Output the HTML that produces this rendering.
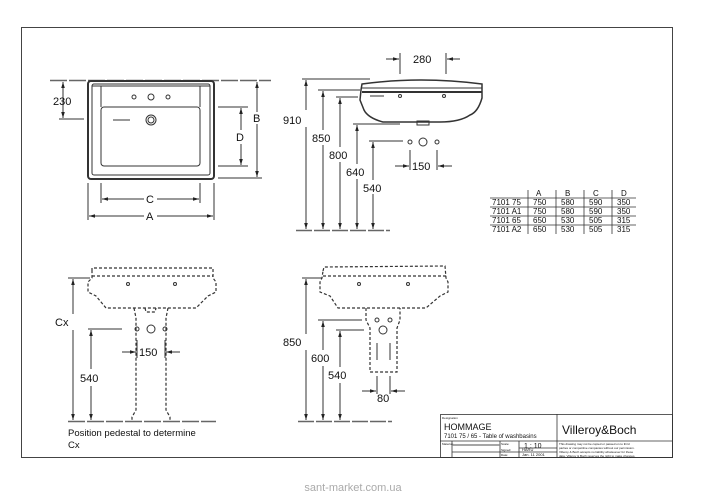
<!DOCTYPE html>
<html><head><meta charset="utf-8"><style>
html,body{margin:0;padding:0;background:#fff;}
svg{display:block;font-family:"Liberation Sans",sans-serif;}
</style></head><body>
<svg width="707" height="500" viewBox="0 0 707 500" xmlns="http://www.w3.org/2000/svg">
<defs>
<marker id="ar" viewBox="0 0 10 10" refX="10" refY="5" markerWidth="6" markerHeight="6" orient="auto-start-reverse"><path d="M0,2 L10,5 L0,8 z" fill="#222"/></marker>
</defs>
<g fill="none" stroke="#333" stroke-width="1">
<rect x="21.5" y="27.5" width="651" height="430" stroke="#444"/>
<!-- top-left basin -->
<line x1="50" y1="80.5" x2="271" y2="80.5" stroke-width="1.5" stroke="#666" stroke-dasharray="17,2"/>
<rect x="88" y="81" width="126" height="98" rx="3" stroke-width="2"/>
<rect x="92" y="84" width="118" height="91" rx="2"/>
<line x1="92" y1="86" x2="210" y2="86"/>
<line x1="101" y1="86" x2="101" y2="107"/><line x1="200" y1="86" x2="200" y2="107"/>
<rect x="101" y="107" width="99" height="59" rx="3"/>
<circle cx="134" cy="97" r="2"/><circle cx="151" cy="97" r="3"/><circle cx="168" cy="97" r="2"/>
<circle cx="151" cy="120" r="5"/><circle cx="151" cy="120" r="3"/>
<line x1="113" y1="120" x2="130" y2="120"/>
<line x1="63" y1="82" x2="63" y2="118" marker-start="url(#ar)" marker-end="url(#ar)"/>
<line x1="59" y1="119" x2="84" y2="119"/>
<line x1="218" y1="107" x2="248" y2="107"/><line x1="218" y1="166" x2="248" y2="166"/>
<line x1="241" y1="108" x2="241" y2="130" marker-start="url(#ar)"/><line x1="241" y1="144" x2="241" y2="165" marker-end="url(#ar)"/>
<line x1="218" y1="178" x2="262" y2="178"/>
<line x1="257" y1="82" x2="257" y2="112" marker-start="url(#ar)"/><line x1="257" y1="124" x2="257" y2="177" marker-end="url(#ar)"/>
<line x1="101" y1="183" x2="101" y2="203"/><line x1="200" y1="183" x2="200" y2="203"/>
<line x1="88" y1="183" x2="88" y2="220"/><line x1="214" y1="183" x2="214" y2="220"/>
<line x1="102" y1="199" x2="144" y2="199" marker-start="url(#ar)"/><line x1="157" y1="199" x2="199" y2="199" marker-end="url(#ar)"/>
<line x1="89" y1="216" x2="144" y2="216" marker-start="url(#ar)"/><line x1="157" y1="216" x2="213" y2="216" marker-end="url(#ar)"/>
<!-- side view -->
<path d="M362,84 Q420,76 482,84 L482,98 Q478,112 470,115 Q460,122 440,122 L383,122 Q368,118 364,110 L360,100 L361,90 Z" stroke-width="1.5"/>
<line x1="362" y1="88" x2="482" y2="88"/><line x1="362" y1="92" x2="482" y2="92" stroke-width="2"/>
<circle cx="400" cy="96" r="1.5"/><circle cx="444" cy="96" r="1.5"/>
<line x1="370" y1="96" x2="384" y2="96"/>
<rect x="417" y="121" width="12" height="4"/>
<line x1="400" y1="53" x2="400" y2="74"/><line x1="446" y1="53" x2="446" y2="74"/>
<line x1="386" y1="59" x2="399" y2="59" marker-end="url(#ar)"/><line x1="460" y1="59" x2="447" y2="59" marker-end="url(#ar)"/>
<circle cx="410" cy="142" r="2"/><circle cx="423" cy="142" r="4"/><circle cx="437" cy="142" r="2"/>
<line x1="410" y1="150" x2="410" y2="170"/><line x1="437" y1="150" x2="437" y2="170"/>
<line x1="395" y1="166" x2="409" y2="166" marker-end="url(#ar)"/><line x1="452" y1="166" x2="438" y2="166" marker-end="url(#ar)"/>
<line x1="296" y1="230.5" x2="390" y2="230.5" stroke-width="1.5" stroke="#666" stroke-dasharray="16,2"/>
<line x1="302" y1="79" x2="370" y2="79"/><line x1="318" y1="90" x2="360" y2="90"/><line x1="336" y1="97" x2="358" y2="97"/>
<line x1="353" y1="124" x2="400" y2="124"/><line x1="369" y1="141" x2="403" y2="141"/>
<line x1="306" y1="80" x2="306" y2="110" marker-start="url(#ar)"/><line x1="306" y1="127" x2="306" y2="229" marker-end="url(#ar)"/>
<line x1="323" y1="91" x2="323" y2="130" marker-start="url(#ar)"/><line x1="323" y1="145" x2="323" y2="229" marker-end="url(#ar)"/>
<line x1="340" y1="98" x2="340" y2="147" marker-start="url(#ar)"/><line x1="340" y1="162" x2="340" y2="229" marker-end="url(#ar)"/>
<line x1="357" y1="125" x2="357" y2="164" marker-start="url(#ar)"/><line x1="357" y1="179" x2="357" y2="229" marker-end="url(#ar)"/>
<line x1="373" y1="142" x2="373" y2="180" marker-start="url(#ar)"/><line x1="373" y1="194" x2="373" y2="229" marker-end="url(#ar)"/>
<!-- table -->
<g stroke-width="0.8">
<line x1="490" y1="198" x2="636" y2="198"/><line x1="490" y1="207" x2="636" y2="207"/><line x1="490" y1="216" x2="636" y2="216"/><line x1="490" y1="225" x2="636" y2="225"/>
<line x1="528" y1="190" x2="528" y2="234"/><line x1="556" y1="190" x2="556" y2="234"/><line x1="584" y1="190" x2="584" y2="234"/><line x1="612" y1="190" x2="612" y2="234"/>
</g>
<!-- bottom-left -->
<g stroke-dasharray="3,2" stroke-width="1.2">
<path d="M92,271 L92,268 L213,268 L213,278 L216,282 L216,292 L208,296 L196,308 L106,308 L96,296 L88,292 L88,282 L92,278 Z"/>
<line x1="92" y1="276" x2="213" y2="276"/>
<path d="M134,308 L136,318 L136,410 L132,417 L132,420"/>
<path d="M168,308 L166,318 L166,410 L170,417 L170,420"/>
<path d="M145,308 L146,312 L155,312 L156,308"/>
</g>
<circle cx="128" cy="284" r="1.5"/><circle cx="175" cy="284" r="1.5"/>
<circle cx="137" cy="329" r="2"/><circle cx="151" cy="329" r="4"/><circle cx="165" cy="329" r="2"/>
<line x1="68" y1="421.5" x2="216" y2="421.5" stroke-width="1.5" stroke="#666" stroke-dasharray="17,2"/>
<line x1="68" y1="278" x2="90" y2="278"/><line x1="88" y1="329" x2="122" y2="329"/>
<line x1="73" y1="279" x2="73" y2="314" marker-start="url(#ar)"/><line x1="73" y1="330" x2="73" y2="420" marker-end="url(#ar)"/>
<line x1="91" y1="330" x2="91" y2="369" marker-start="url(#ar)"/><line x1="91" y1="386" x2="91" y2="420" marker-end="url(#ar)"/>
<line x1="137" y1="340" x2="137" y2="358"/><line x1="165" y1="340" x2="165" y2="358"/>
<line x1="122" y1="352" x2="136" y2="352" marker-end="url(#ar)"/><line x1="180" y1="352" x2="166" y2="352" marker-end="url(#ar)"/>
<!-- bottom-middle -->
<g stroke-dasharray="3,2" stroke-width="1.2">
<path d="M323,271 L324,267 L445,266 L446,278 L448,282 L448,292 L440,296 L426,308 L338,308 L330,296 L320,292 L320,282 L322,278 Z"/>
<line x1="323" y1="276" x2="446" y2="276"/>
<path d="M366,308 L366,320 L370,328 L370,372 L397,372 L397,328 L400,320 L400,308"/>
</g>
<circle cx="359" cy="284" r="1.5"/><circle cx="408" cy="284" r="1.5"/>
<circle cx="377" cy="320" r="2"/><circle cx="390" cy="320" r="2"/><circle cx="383" cy="330" r="4"/>
<line x1="377" y1="343" x2="377" y2="360"/><line x1="390" y1="343" x2="390" y2="360"/>
<line x1="377" y1="376" x2="377" y2="394"/><line x1="390" y1="376" x2="390" y2="394"/>
<line x1="362" y1="391" x2="376" y2="391" marker-end="url(#ar)"/><line x1="405" y1="391" x2="391" y2="391" marker-end="url(#ar)"/>
<line x1="302" y1="278" x2="322" y2="278"/><line x1="318" y1="320" x2="362" y2="320"/><line x1="336" y1="330" x2="364" y2="330"/>
<line x1="306" y1="279" x2="306" y2="334" marker-start="url(#ar)"/><line x1="306" y1="350" x2="306" y2="420" marker-end="url(#ar)"/>
<line x1="323" y1="321" x2="323" y2="350" marker-start="url(#ar)"/><line x1="323" y1="366" x2="323" y2="420" marker-end="url(#ar)"/>
<line x1="340" y1="331" x2="340" y2="367" marker-start="url(#ar)"/><line x1="340" y1="383" x2="340" y2="420" marker-end="url(#ar)"/>
<line x1="298" y1="421.5" x2="392" y2="421.5" stroke-width="1.5" stroke="#666" stroke-dasharray="16,2"/>
<!-- title block -->
<g stroke-width="0.8">
<rect x="440.5" y="414.5" width="232" height="43"/>
<line x1="557" y1="414" x2="557" y2="457"/>
<line x1="440" y1="441" x2="672" y2="441"/>
<line x1="452" y1="441" x2="452" y2="457"/>
<line x1="500" y1="441" x2="500" y2="457"/>
<line x1="519" y1="448" x2="557" y2="448"/><line x1="519" y1="441" x2="519" y2="457"/>
<line x1="452" y1="452" x2="557" y2="452"/>
<line x1="452" y1="445" x2="500" y2="445" stroke-width="1.5" stroke="#888"/>
</g>
</g>
<g fill="#111" font-size="11">
<text x="53" y="105">230</text>
<text x="236" y="141">D</text>
<text x="253" y="122">B</text>
<text x="146" y="203">C</text>
<text x="146" y="220">A</text>
<text x="413" y="63">280</text>
<text x="412" y="170">150</text>
<text x="283" y="124">910</text>
<text x="312" y="142">850</text>
<text x="329" y="159">800</text>
<text x="346" y="176">640</text>
<text x="363" y="192">540</text>
<text x="55" y="326">Cx</text>
<text x="80" y="382">540</text>
<text x="139" y="356">150</text>
<text x="283" y="346">850</text>
<text x="311" y="362">600</text>
<text x="328" y="379">540</text>
<text x="377" y="402">80</text>
<text x="68" y="436" font-size="9.5">Position pedestal to determine</text>
<text x="68" y="448" font-size="9.5">Cx</text>
</g>
<g fill="#111" font-size="8">
<text x="536" y="196">A</text><text x="565" y="196">B</text><text x="593" y="196">C</text><text x="621" y="196">D</text>
<text x="492" y="205">7101 75</text><text x="533" y="205">750</text><text x="561" y="205">580</text><text x="589" y="205">590</text><text x="617" y="205">350</text>
<text x="492" y="214">7101 A1</text><text x="533" y="214">750</text><text x="561" y="214">580</text><text x="589" y="214">590</text><text x="617" y="214">350</text>
<text x="492" y="223">7101 65</text><text x="533" y="223">650</text><text x="561" y="223">530</text><text x="589" y="223">505</text><text x="617" y="223">315</text>
<text x="492" y="232">7101 A2</text><text x="533" y="232">650</text><text x="561" y="232">530</text><text x="589" y="232">505</text><text x="617" y="232">315</text>
</g>
<g fill="#111">
<text x="442" y="419" font-size="3">Designation</text>
<text x="444" y="430" font-size="9">HOMMAGE</text>
<text x="444" y="438" font-size="6">7101 75 / 65 - Table of washbasins</text>
<text x="562" y="434" font-size="12">Villeroy&amp;Boch</text>
<text x="442" y="445" font-size="3">Material:</text>
<text x="501" y="445" font-size="3">Scale:</text>
<text x="524" y="448" font-size="7">1 : 10</text>
<text x="501" y="451" font-size="3">Signed:</text><text x="522" y="451" font-size="4">HARU</text>
<text x="501" y="456" font-size="3">Date:</text><text x="522" y="456" font-size="4">Jan. 11 2001</text>
<text x="559" y="445" font-size="3">This drawing may not be copied or passed on to third</text>
<text x="559" y="449" font-size="3">parties or competitive companies without our permission.</text>
<text x="559" y="453" font-size="3">Villeroy &amp; Boch accepts no liability whatsoever for these</text>
<text x="559" y="457" font-size="3">data. Villeroy &amp; Boch reserves the right to make changes.</text>
</g>
<text x="353" y="491" font-size="11" fill="#aaa" text-anchor="middle">sant-market.com.ua</text>
</svg>
</body></html>
